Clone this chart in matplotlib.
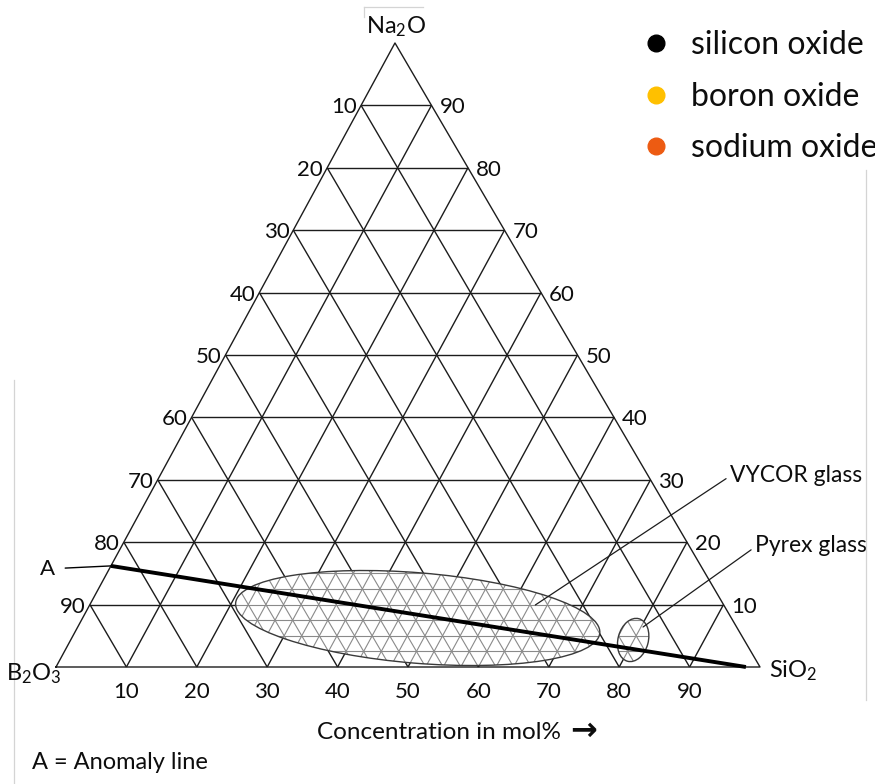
import numpy as np
import matplotlib
matplotlib.use("Agg")
import matplotlib.pyplot as plt
from matplotlib.patches import Ellipse
from matplotlib.collections import LineCollection
from matplotlib.lines import Line2D

plt.rcParams['font.family'] = ['Lato', 'DejaVu Sans']
plt.rcParams['mathtext.fontset'] = 'custom'
plt.rcParams['mathtext.rm'] = 'Lato'
plt.rcParams['mathtext.it'] = 'Lato:italic'
plt.rcParams['mathtext.bf'] = 'Lato:bold'

# ---- data -------------------------------------------------------------
grid_levels = [10, 20, 30, 40, 50, 60, 70, 80, 90]          # mol%
bottom_labels = [str(v) for v in grid_levels]                 # SiO2 along base
right_labels = [str(v) for v in grid_levels]                  # Na2O on right edge
left_labels = [str(100 - v) for v in grid_levels]             # B2O3 on left edge
hatch_step = 2.5                                              # fine composition grid

corner_names = ['B$_2$O$_3$', 'SiO$_2$', 'Na$_2$O']

# anomaly line end points (SiO2 mol%, Na2O mol%)
anomaly_sio2 = [0.0, 98.0]
anomaly_na2o = [16.2, 0.0]

# glass-forming regions: centre composition and ellipse extent
region_names = ['VYCOR glass', 'Pyrex glass']
region_sio2 = [47.6, 79.9]
region_na2o = [7.85, 4.33]
region_width = [51.9, 4.3]
region_height = [12.85, 6.25]
region_angle = [-4.7, -15.0]
pointer_sio2 = [63.3, 80.3]
pointer_na2o = [9.94, 6.41]

legend_labels = ['silicon oxide', 'boron oxide', 'sodium oxide']
legend_colors = ['#000000', '#FFC000', '#ED5B12']

# ---- ternary projection -------------------------------------------------
APEX_X, APEX_Y = 48.15, 88.64   # position of the Na2O corner (base = 100)


def tern(si, na):
    si = np.asarray(si, dtype=float)
    na = np.asarray(na, dtype=float)
    return si + na * APEX_X / 100.0, na * APEX_Y / 100.0


W, H = 875, 784
fig = plt.figure(figsize=(W / 100, H / 100), dpi=100)
ax = fig.add_axes([0, 0, 1, 1])
scale = 7.04                     # pixels per mol%
x0, y0 = 56, 667                 # B2O3 corner in pixels
ax.set_xlim(-x0 / scale, (W - x0) / scale)
ax.set_ylim((y0 - H) / scale, y0 / scale)
ax.axis('off')


def fpx(x, y):
    """figure-fraction position from pixel position (origin top-left)"""
    return x / W, 1 - y / H


def grid_segments(levels):
    segs = []
    for v in levels:
        # constant Na2O
        segs.append(np.column_stack(tern([0, 100 - v], [v, v])))
        # constant SiO2
        segs.append(np.column_stack(tern([v, v], [0, 100 - v])))
        # constant B2O3
        segs.append(np.column_stack(tern([100 - v, 0], [0, 100 - v])))
    return segs


GRID_COLOR = '#1c1c1c'
TEXT_COLOR = '#0d0d0d'

# outer triangle
tri = np.column_stack(tern([0, 100, 0, 0], [0, 0, 100, 0]))
ax.plot(tri[:, 0], tri[:, 1], color=GRID_COLOR, lw=1.0, zorder=2)
ax.add_collection(LineCollection(grid_segments(grid_levels), colors=GRID_COLOR,
                                 linewidths=1.0, zorder=2))

# glass regions, filled with a fine composition grid
fine_levels = np.arange(hatch_step, 100, hatch_step)
for i, name in enumerate(region_names):
    cx, cy = tern(region_sio2[i], region_na2o[i])
    ell = Ellipse((cx, cy), region_width[i], region_height[i], angle=region_angle[i],
                  facecolor='white', edgecolor='none', zorder=3)
    ax.add_patch(ell)
    lc = LineCollection(grid_segments(fine_levels), colors='#8a8a8a',
                        linewidths=0.8, zorder=4)
    ax.add_collection(lc)
    lc.set_clip_path(ell)
    ax.add_patch(Ellipse((cx, cy), region_width[i], region_height[i],
                         angle=region_angle[i], facecolor='none',
                         edgecolor='#3a3a3a', lw=1.0, zorder=5))

# region pointers
label_px = [(730, 475), (755, 546)]
for i, name in enumerate(region_names):
    px = tern(pointer_sio2[i], pointer_na2o[i])
    ax.annotate(name, xy=(float(px[0]), float(px[1])), xycoords='data',
                xytext=fpx(*label_px[i]), textcoords='figure fraction',
                ha='left', va='center', fontsize=16.5, color=TEXT_COLOR,
                arrowprops=dict(arrowstyle='-', color='#1c1c1c', lw=0.9,
                                shrinkA=1, shrinkB=0, relpos=(0, 0.45)),
                zorder=6)

# anomaly line
ax_x, ax_y = tern(anomaly_sio2, anomaly_na2o)
ax.plot(ax_x, ax_y, color='black', lw=2.8, solid_capstyle='butt', zorder=7)
ax.annotate('A', xy=(ax_x[0], ax_y[0]), xytext=(-63, -3), textcoords='offset pixels',
            ha='center', va='center', fontsize=16, color=TEXT_COLOR,
            arrowprops=dict(arrowstyle='-', color='black', lw=1.0,
                            shrinkA=5, shrinkB=0))

# edge labels
for v, lab in zip(grid_levels, left_labels):
    p = tern(0, v)
    ax.annotate(lab, xy=(float(p[0]), float(p[1])), xytext=(-4, -8),
                textcoords='offset pixels', ha='right', va='baseline',
                fontsize=16, color=TEXT_COLOR)
for v, lab in zip(grid_levels, right_labels):
    p = tern(100 - v, v)
    ax.annotate(lab, xy=(float(p[0]), float(p[1])), xytext=(8, -8),
                textcoords='offset pixels', ha='left', va='baseline',
                fontsize=16, color=TEXT_COLOR)
for v, lab in zip(grid_levels, bottom_labels):
    p = tern(v, 0)
    ax.annotate(lab, xy=(float(p[0]), float(p[1])), xytext=(0, -31),
                textcoords='offset pixels', ha='center', va='baseline',
                fontsize=16, color=TEXT_COLOR)

# corner names
fig.text(*fpx(34, 680), corner_names[0], ha='center', va='baseline', fontsize=17,
         color=TEXT_COLOR)
fig.text(*fpx(769, 677), corner_names[1], ha='left', va='baseline', fontsize=17,
         color=TEXT_COLOR)
fig.text(*fpx(396, 33), corner_names[2], ha='center', va='baseline', fontsize=17,
         color=TEXT_COLOR)

fig.text(*fpx(317, 739), 'Concentration in mol%', ha='left', va='baseline',
         fontsize=17.5, color=TEXT_COLOR)
fig.text(*fpx(570, 740), '\u2192', ha='left', va='baseline', fontsize=23,
         fontweight='bold', family=['DejaVu Sans'], color=TEXT_COLOR)
fig.text(*fpx(32, 769), 'A = Anomaly line', ha='left', va='baseline',
         fontsize=17, color=TEXT_COLOR)

# legend
handles = [Line2D([], [], marker='o', linestyle='none', markersize=12,
                  markerfacecolor=c, markeredgecolor=c) for c in legend_colors]
fs = 23
leg = fig.legend(handles, legend_labels, loc='upper left',
                 bbox_to_anchor=fpx(646, 30), frameon=False, fontsize=fs,
                 handlelength=0.6, handletextpad=0.8, labelspacing=0.68,
                 borderpad=0, borderaxespad=0)
for t in leg.get_texts():
    t.set_color(TEXT_COLOR)

# faint frame remnants at the page edges
for xs, ys in [((14, 14), (380, 784)), ((866, 866), (170, 700)),
               ((364, 423), (7, 7)), ((364, 364), (7, 17))]:
    fig.add_artist(Line2D([x / W for x in xs], [1 - y / H for y in ys],
                          color='#d4d4d4', lw=0.9))

fig.savefig('out.png', dpi=100, facecolor='white')
